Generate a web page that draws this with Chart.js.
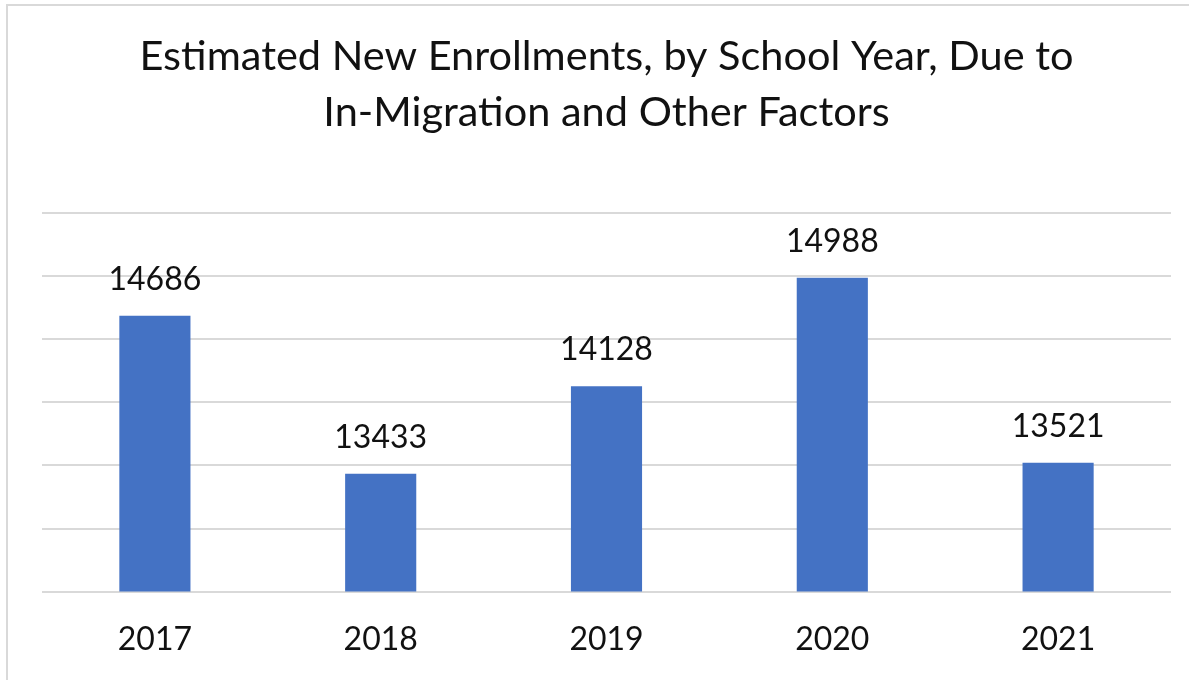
<!DOCTYPE html>
<html>
<head>
<meta charset="utf-8">
<script src="https://cdn.jsdelivr.net/npm/chart.js@4/dist/chart.umd.min.js"></script>
<style>
  html, body { margin: 0; padding: 0; background: #fff; }
  #wrap { position: relative; width: 1189px; height: 680px; overflow: hidden; }
  #frame { position: absolute; left: 6px; top: 4px; width: 1300px; height: 800px; border-left: 2px solid #d9d9d9; border-top: 2px solid #d9d9d9; box-sizing: border-box; }
  canvas { position: absolute; left: 0; top: 0; }
</style>
</head>
<body>
<div id="wrap">
  <div id="frame"></div>
  <canvas id="c" width="1189" height="680"></canvas>
</div>
<script>
const categories = ['2017', '2018', '2019', '2020', '2021'];
const enrollments = [14686, 13433, 14128, 14988, 13521];
const titleLines = ['Estimated New Enrollments, by School Year, Due to', 'In-Migration and Other Factors'];
const yMin = 12500, yMax = 15500, yStep = 500;

const FONT = 'Lato, "Open Sans", sans-serif';
const TEXT = '#111111';

const valueLabels = {
  id: 'valueLabels',
  afterDatasetsDraw(chart) {
    const ctx = chart.ctx;
    const meta = chart.getDatasetMeta(0);
    ctx.save();
    ctx.font = '32px ' + FONT;
    ctx.fillStyle = TEXT;
    ctx.textAlign = 'center';
    ctx.textBaseline = 'bottom';
    meta.data.forEach((bar, i) => {
      ctx.fillText(String(chart.data.datasets[0].data[i]), bar.x, bar.y - 20);
    });
    ctx.restore();
  }
};

new Chart(document.getElementById('c'), {
  type: 'bar',
  data: {
    labels: categories,
    datasets: [{
      data: enrollments,
      backgroundColor: '#4472C4',
      borderWidth: 0,
      categoryPercentage: 1,
      barPercentage: 0.315
    }]
  },
  options: {
    responsive: false,
    animation: false,
    devicePixelRatio: 1,
    layout: { padding: { left: 42, right: 18, top: 0, bottom: 0 } },
    plugins: {
      legend: { display: false },
      tooltip: { enabled: false },
      title: {
        display: true,
        text: titleLines,
        color: TEXT,
        font: { family: FONT, size: 41.5, weight: 'normal', lineHeight: 1.35 },
        padding: { top: 29, bottom: 72 }
      }
    },
    scales: {
      x: {
        grid: { display: false },
        border: { display: false },
        ticks: { color: TEXT, font: { family: FONT, size: 32 }, padding: 21 }
      },
      y: {
        min: yMin, max: yMax,
        ticks: { display: false, stepSize: yStep },
        grid: { color: '#d9d9d9', lineWidth: 2, drawTicks: false },
        border: { display: false }
      }
    }
  },
  plugins: [valueLabels]
});
</script>
</body>
</html>
